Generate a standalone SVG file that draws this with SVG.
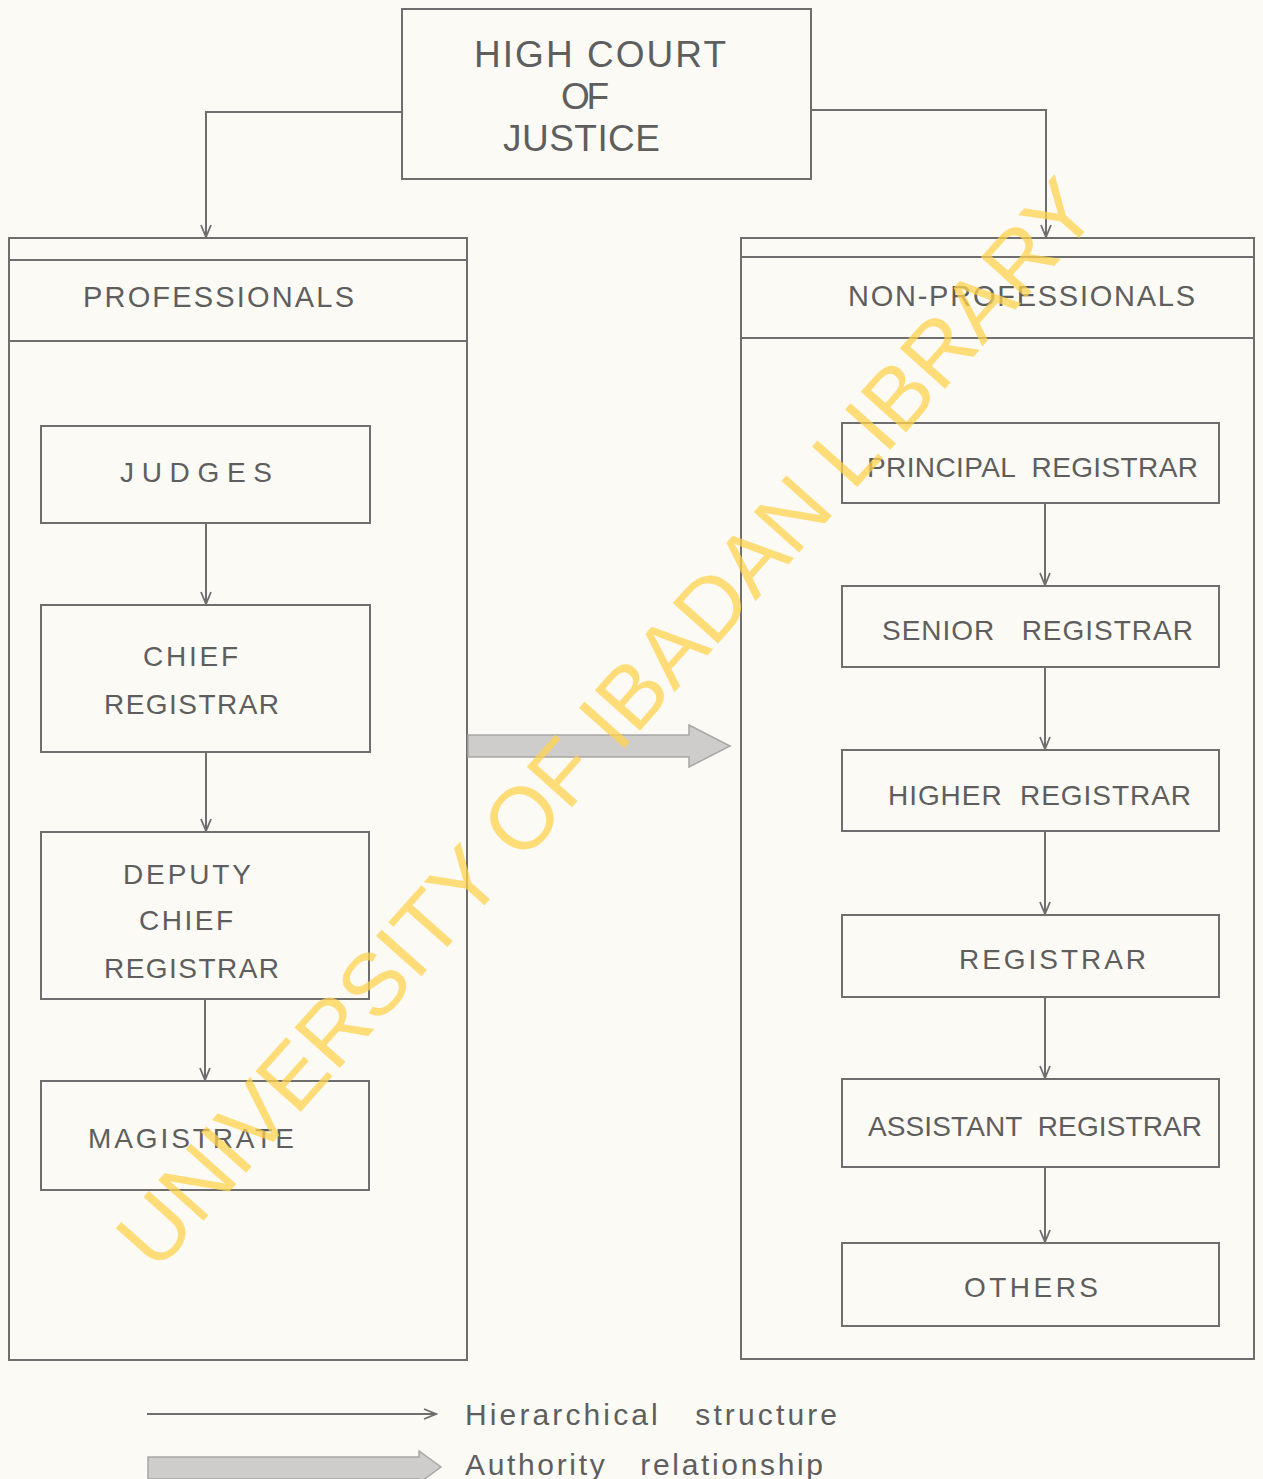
<svg xmlns="http://www.w3.org/2000/svg" width="1263" height="1479" viewBox="0 0 1263 1479" xml:space="preserve">
<style>
.box{fill:none;stroke:#6e6e6e;stroke-width:2}
.ln{fill:none;stroke:#6e6e6e;stroke-width:2}
.t{font-family:"Liberation Sans","DejaVu Sans",sans-serif;fill:#5e5e5e;white-space:pre}
.lbl{font-size:28px}
.hd{font-size:29px}
.top{font-size:37px}
.leg{font-size:30px}
.thick{fill:#cfcdcb;stroke:#a9a7a5;stroke-width:1.5}
.wm{font-family:"Liberation Sans","DejaVu Sans",sans-serif;font-size:88px;fill:#FFD24D;fill-opacity:0.75}
</style>
<defs>
<marker id="v" viewBox="-14 -8 16 16" refX="0" refY="0" markerWidth="16" markerHeight="16" markerUnits="userSpaceOnUse" orient="auto">
<path d="M-12,-5 L0,0 L-12,5" fill="none" stroke="#6e6e6e" stroke-width="1.8"/>
</marker>
</defs>
<rect x="0" y="0" width="1263" height="1479" fill="#FBFAF5"/>
<g id="high-court">
<rect class="box" x="402" y="9" width="409" height="170"/>
<text class="t top" x="474" y="67" textLength="252" lengthAdjust="spacing">HIGH COURT</text>
<text class="t top" x="561" y="109" textLength="48" lengthAdjust="spacing">OF</text>
<text class="t top" x="503" y="151" textLength="157" lengthAdjust="spacing">JUSTICE</text>
</g>
<g id="professionals">
<rect class="box" x="9" y="238" width="458" height="1122"/>
<line class="ln" x1="9" y1="260" x2="467" y2="260"/>
<line class="ln" x1="9" y1="341" x2="467" y2="341"/>
<text class="t hd" x="83" y="307" textLength="271" lengthAdjust="spacing">PROFESSIONALS</text>
</g>
<g id="non-professionals">
<rect class="box" x="741" y="238" width="513" height="1121"/>
<line class="ln" x1="741" y1="257" x2="1254" y2="257"/>
<line class="ln" x1="741" y1="338" x2="1254" y2="338"/>
<text class="t hd" x="848" y="306" textLength="347" lengthAdjust="spacing">NON-PROFESSIONALS</text>
</g>
<g id="judges">
<rect class="box" x="41" y="426" width="329" height="97"/>
<text class="t lbl" x="120" y="482" textLength="152" lengthAdjust="spacing">JUDGES</text>
</g>
<g id="chief-registrar">
<rect class="box" x="41" y="605" width="329" height="147"/>
<text class="t lbl" x="143" y="666" textLength="95" lengthAdjust="spacing">CHIEF</text>
<text class="t lbl" x="104" y="714" textLength="175" lengthAdjust="spacing">REGISTRAR</text>
</g>
<g id="deputy-chief-registrar">
<rect class="box" x="41" y="832" width="328" height="167"/>
<text class="t lbl" x="123" y="884" textLength="128" lengthAdjust="spacing">DEPUTY</text>
<text class="t lbl" x="139" y="930" textLength="94" lengthAdjust="spacing">CHIEF</text>
<text class="t lbl" x="104" y="978" textLength="175" lengthAdjust="spacing">REGISTRAR</text>
</g>
<g id="magistrate">
<rect class="box" x="41" y="1081" width="328" height="109"/>
<text class="t lbl" x="88" y="1148" textLength="206" lengthAdjust="spacing">MAGISTRATE</text>
</g>
<g id="principal-registrar">
<rect class="box" x="842" y="423" width="377" height="80"/>
<text class="t lbl" x="867" y="477" textLength="331" lengthAdjust="spacing">PRINCIPAL  REGISTRAR</text>
</g>
<g id="senior-registrar">
<rect class="box" x="842" y="586" width="377" height="81"/>
<text class="t lbl" x="882" y="640" textLength="311" lengthAdjust="spacing">SENIOR   REGISTRAR</text>
</g>
<g id="higher-registrar">
<rect class="box" x="842" y="750" width="377" height="81"/>
<text class="t lbl" x="888" y="805" textLength="303" lengthAdjust="spacing">HIGHER  REGISTRAR</text>
</g>
<g id="registrar">
<rect class="box" x="842" y="915" width="377" height="82"/>
<text class="t lbl" x="959" y="969" textLength="187" lengthAdjust="spacing">REGISTRAR</text>
</g>
<g id="assistant-registrar">
<rect class="box" x="842" y="1079" width="377" height="88"/>
<text class="t lbl" x="868" y="1136" textLength="334" lengthAdjust="spacing">ASSISTANT  REGISTRAR</text>
</g>
<g id="others">
<rect class="box" x="842" y="1243" width="377" height="83"/>
<text class="t lbl" x="964" y="1297" textLength="134" lengthAdjust="spacing">OTHERS</text>
</g>
<g id="connectors">
<path class="ln" d="M402,112 H206 V237" marker-end="url(#v)"/>
<path class="ln" d="M811,110 H1046 V237" marker-end="url(#v)"/>
<line class="ln" x1="206" y1="523" x2="206" y2="604" marker-end="url(#v)"/>
<line class="ln" x1="206" y1="752" x2="206" y2="831" marker-end="url(#v)"/>
<line class="ln" x1="205" y1="999" x2="205" y2="1080" marker-end="url(#v)"/>
<line class="ln" x1="1045" y1="503" x2="1045" y2="585" marker-end="url(#v)"/>
<line class="ln" x1="1045" y1="667" x2="1045" y2="749" marker-end="url(#v)"/>
<line class="ln" x1="1045" y1="831" x2="1045" y2="914" marker-end="url(#v)"/>
<line class="ln" x1="1045" y1="997" x2="1045" y2="1078" marker-end="url(#v)"/>
<line class="ln" x1="1045" y1="1167" x2="1045" y2="1242" marker-end="url(#v)"/>
<path class="thick" d="M468,735 H689 V725 L730,746 L689,767 V757 H468 Z"/>
</g>
<g id="legend">
<line class="ln" x1="147" y1="1414" x2="436" y2="1414" marker-end="url(#v)"/>
<text class="t leg" x="465" y="1425" textLength="372" lengthAdjust="spacing">Hierarchical   structure</text>
<path class="thick" d="M148,1457 H419 V1451 L441,1467 L419,1483 V1479 H148 Z"/>
<text class="t leg" x="465" y="1475" textLength="358" lengthAdjust="spacing">Authority   relationship</text>
</g>
<text class="wm" x="0" y="0" text-anchor="middle" transform="translate(605,722) rotate(-48.3) translate(0,32)" textLength="1420" lengthAdjust="spacingAndGlyphs">UNIVERSITY OF IBADAN LIBRARY</text>
</svg>
